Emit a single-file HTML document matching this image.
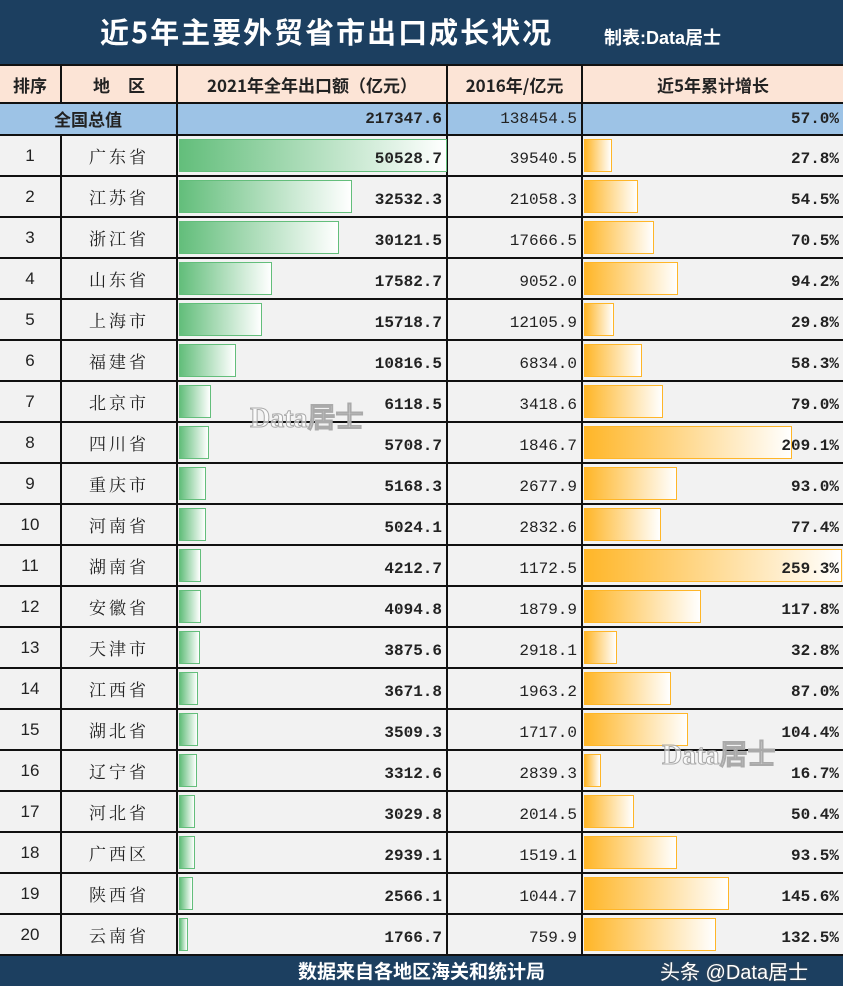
<!DOCTYPE html>
<html><head><meta charset="utf-8"><style>
*{margin:0;padding:0;box-sizing:border-box}
body{width:843px;height:986px;position:relative;background:#f2f2f2;overflow:hidden;font-family:"Liberation Sans","Noto Sans CJK SC",sans-serif}
.title{position:absolute;left:0;top:0;width:843px;height:64px;background:#1c3f60;color:#fff}
.title .t{position:absolute;left:100px;top:10px;font:bold 29px "Noto Sans CJK SC",sans-serif;letter-spacing:2px}
.title .s{position:absolute;left:604px;top:24px;font:bold 18px "Liberation Sans","Noto Sans CJK SC",sans-serif}
.r{position:absolute;left:0;width:843px;border-bottom:2px solid #111}
.c{position:absolute;top:0;height:100%;border-right:2px solid #111;display:flex;align-items:center;font-size:16px;color:#222}
.c0{left:0;width:62px;justify-content:center;font-family:"Liberation Sans Narrow","Liberation Sans",sans-serif;font-size:17px}
.c1{left:62px;width:116px;justify-content:center;font-family:"Noto Serif CJK SC","Noto Sans CJK SC",serif;font-size:17px;letter-spacing:3px}
.c2{left:178px;width:270px;justify-content:flex-end;padding-right:4px}
.c3{left:448px;width:135px;justify-content:flex-end;padding-right:4px;font-weight:normal}
.c4{left:583px;width:260px;justify-content:flex-end;padding-right:4px;border-right:none}
.n{font-family:"Liberation Mono",monospace;font-weight:bold;font-size:16px;position:relative;z-index:2;padding-top:6px}
.c3 .n{font-weight:normal;color:#222}
.h{background:#fce4d6;font-family:"Noto Sans CJK SC",sans-serif;font-weight:bold}
.h .c{justify-content:center;font-family:"Noto Sans CJK SC",sans-serif;font-weight:bold;font-size:17px;color:#222;padding:0}
.g{position:absolute;left:1px;top:3px;bottom:3px;background:linear-gradient(90deg,#63be7b,#fff);border:1px solid #63be7b}
.o{position:absolute;left:1px;top:3px;bottom:3px;background:linear-gradient(90deg,#ffb628,#fff);border:1px solid #ffb628}
.foot{position:absolute;left:0;top:956px;width:843px;height:30px;background:#1c3f60;color:#fff;text-align:center;font:bold 19px "Noto Sans CJK SC",sans-serif;line-height:30px}
.wm{position:absolute;font:bold 28px "Liberation Serif",serif;color:rgba(255,255,255,.6);-webkit-text-stroke:1px #aaa;z-index:1}
</style></head><body>
<div class="title"><div class="t">近5年主要外贸省市出口成长状况</div><div class="s">制表:Data居士</div></div>
<div class="r h" style="top:64px;height:40px;border-top:2px solid #111"><div class="c c0">排序</div><div class="c c1" style="letter-spacing:18px;padding-left:18px">地区</div><div class="c c2" style="padding:0">2021年全年出口额（亿元）</div><div class="c c3" style="padding:0">2016年/亿元</div><div class="c c4" style="padding:0">近5年累计增长</div></div>
<div class="r" style="top:104px;height:32px;background:#9dc3e6"><div class="c" style="left:0;width:178px;justify-content:center;font:bold 17px 'Noto Sans CJK SC',sans-serif;line-height:1;padding-bottom:2px">全国总值</div><div class="c c2"><span class="n" style="padding:0">217347.6</span></div><div class="c c3"><span class="n" style="padding:0;color:#222">138454.5</span></div><div class="c c4"><span class="n" style="padding:0">57.0%</span></div></div>

<div class="r" style="top:136px;height:41px"><div class="c c0">1</div><div class="c c1">广东省</div><div class="c c2"><div class="g" style="width:268px"></div><span class="n">50528.7</span></div><div class="c c3"><span class="n">39540.5</span></div><div class="c c4"><div class="o" style="width:28px"></div><span class="n">27.8%</span></div></div>
<div class="r" style="top:177px;height:41px"><div class="c c0">2</div><div class="c c1">江苏省</div><div class="c c2"><div class="g" style="width:173px"></div><span class="n">32532.3</span></div><div class="c c3"><span class="n">21058.3</span></div><div class="c c4"><div class="o" style="width:54px"></div><span class="n">54.5%</span></div></div>
<div class="r" style="top:218px;height:41px"><div class="c c0">3</div><div class="c c1">浙江省</div><div class="c c2"><div class="g" style="width:160px"></div><span class="n">30121.5</span></div><div class="c c3"><span class="n">17666.5</span></div><div class="c c4"><div class="o" style="width:70px"></div><span class="n">70.5%</span></div></div>
<div class="r" style="top:259px;height:41px"><div class="c c0">4</div><div class="c c1">山东省</div><div class="c c2"><div class="g" style="width:93px"></div><span class="n">17582.7</span></div><div class="c c3"><span class="n">9052.0</span></div><div class="c c4"><div class="o" style="width:94px"></div><span class="n">94.2%</span></div></div>
<div class="r" style="top:300px;height:41px"><div class="c c0">5</div><div class="c c1">上海市</div><div class="c c2"><div class="g" style="width:83px"></div><span class="n">15718.7</span></div><div class="c c3"><span class="n">12105.9</span></div><div class="c c4"><div class="o" style="width:30px"></div><span class="n">29.8%</span></div></div>
<div class="r" style="top:341px;height:41px"><div class="c c0">6</div><div class="c c1">福建省</div><div class="c c2"><div class="g" style="width:57px"></div><span class="n">10816.5</span></div><div class="c c3"><span class="n">6834.0</span></div><div class="c c4"><div class="o" style="width:58px"></div><span class="n">58.3%</span></div></div>
<div class="r" style="top:382px;height:41px"><div class="c c0">7</div><div class="c c1">北京市</div><div class="c c2"><div class="g" style="width:32px"></div><span class="n">6118.5</span></div><div class="c c3"><span class="n">3418.6</span></div><div class="c c4"><div class="o" style="width:79px"></div><span class="n">79.0%</span></div></div>
<div class="r" style="top:423px;height:41px"><div class="c c0">8</div><div class="c c1">四川省</div><div class="c c2"><div class="g" style="width:30px"></div><span class="n">5708.7</span></div><div class="c c3"><span class="n">1846.7</span></div><div class="c c4"><div class="o" style="width:208px"></div><span class="n">209.1%</span></div></div>
<div class="r" style="top:464px;height:41px"><div class="c c0">9</div><div class="c c1">重庆市</div><div class="c c2"><div class="g" style="width:27px"></div><span class="n">5168.3</span></div><div class="c c3"><span class="n">2677.9</span></div><div class="c c4"><div class="o" style="width:93px"></div><span class="n">93.0%</span></div></div>
<div class="r" style="top:505px;height:41px"><div class="c c0">10</div><div class="c c1">河南省</div><div class="c c2"><div class="g" style="width:27px"></div><span class="n">5024.1</span></div><div class="c c3"><span class="n">2832.6</span></div><div class="c c4"><div class="o" style="width:77px"></div><span class="n">77.4%</span></div></div>
<div class="r" style="top:546px;height:41px"><div class="c c0">11</div><div class="c c1">湖南省</div><div class="c c2"><div class="g" style="width:22px"></div><span class="n">4212.7</span></div><div class="c c3"><span class="n">1172.5</span></div><div class="c c4"><div class="o" style="width:258px"></div><span class="n">259.3%</span></div></div>
<div class="r" style="top:587px;height:41px"><div class="c c0">12</div><div class="c c1">安徽省</div><div class="c c2"><div class="g" style="width:22px"></div><span class="n">4094.8</span></div><div class="c c3"><span class="n">1879.9</span></div><div class="c c4"><div class="o" style="width:117px"></div><span class="n">117.8%</span></div></div>
<div class="r" style="top:628px;height:41px"><div class="c c0">13</div><div class="c c1">天津市</div><div class="c c2"><div class="g" style="width:21px"></div><span class="n">3875.6</span></div><div class="c c3"><span class="n">2918.1</span></div><div class="c c4"><div class="o" style="width:33px"></div><span class="n">32.8%</span></div></div>
<div class="r" style="top:669px;height:41px"><div class="c c0">14</div><div class="c c1">江西省</div><div class="c c2"><div class="g" style="width:19px"></div><span class="n">3671.8</span></div><div class="c c3"><span class="n">1963.2</span></div><div class="c c4"><div class="o" style="width:87px"></div><span class="n">87.0%</span></div></div>
<div class="r" style="top:710px;height:41px"><div class="c c0">15</div><div class="c c1">湖北省</div><div class="c c2"><div class="g" style="width:19px"></div><span class="n">3509.3</span></div><div class="c c3"><span class="n">1717.0</span></div><div class="c c4"><div class="o" style="width:104px"></div><span class="n">104.4%</span></div></div>
<div class="r" style="top:751px;height:41px"><div class="c c0">16</div><div class="c c1">辽宁省</div><div class="c c2"><div class="g" style="width:18px"></div><span class="n">3312.6</span></div><div class="c c3"><span class="n">2839.3</span></div><div class="c c4"><div class="o" style="width:17px"></div><span class="n">16.7%</span></div></div>
<div class="r" style="top:792px;height:41px"><div class="c c0">17</div><div class="c c1">河北省</div><div class="c c2"><div class="g" style="width:16px"></div><span class="n">3029.8</span></div><div class="c c3"><span class="n">2014.5</span></div><div class="c c4"><div class="o" style="width:50px"></div><span class="n">50.4%</span></div></div>
<div class="r" style="top:833px;height:41px"><div class="c c0">18</div><div class="c c1">广西区</div><div class="c c2"><div class="g" style="width:16px"></div><span class="n">2939.1</span></div><div class="c c3"><span class="n">1519.1</span></div><div class="c c4"><div class="o" style="width:93px"></div><span class="n">93.5%</span></div></div>
<div class="r" style="top:874px;height:41px"><div class="c c0">19</div><div class="c c1">陕西省</div><div class="c c2"><div class="g" style="width:14px"></div><span class="n">2566.1</span></div><div class="c c3"><span class="n">1044.7</span></div><div class="c c4"><div class="o" style="width:145px"></div><span class="n">145.6%</span></div></div>
<div class="r" style="top:915px;height:41px"><div class="c c0">20</div><div class="c c1">云南省</div><div class="c c2"><div class="g" style="width:9px"></div><span class="n">1766.7</span></div><div class="c c3"><span class="n">759.9</span></div><div class="c c4"><div class="o" style="width:132px"></div><span class="n">132.5%</span></div></div>

<div class="wm" style="left:250px;top:396px">Data居士</div>
<div class="wm" style="left:662px;top:733px">Data居士</div>
<div class="foot">数据来自各地区海关和统计局</div>
<div style="position:absolute;left:660px;top:956px;color:#fff;font:20px 'Liberation Sans','Noto Sans CJK SC',sans-serif;z-index:5;text-shadow:0 0 2px #555">头条 @Data居士</div>
</body></html>
